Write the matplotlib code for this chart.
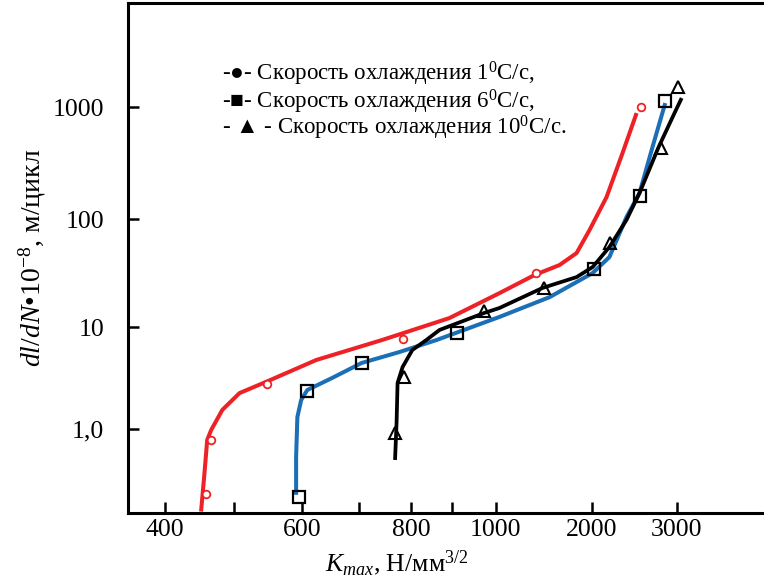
import numpy as np
import matplotlib.pyplot as plt

plt.rcParams['font.family'] = ['Liberation Serif', 'DejaVu Serif']
plt.rcParams['mathtext.fontset'] = 'custom'
plt.rcParams['mathtext.rm'] = 'Liberation Serif'
plt.rcParams['mathtext.it'] = 'Liberation Serif:italic'

# --- data (K_max, dl/dN) ---
red_curve_k = [449, 454, 458, 464, 481, 507, 545, 623, 742, 892, 1029, 1325, 1587, 1795, 1971, 2148, 2318, 2479]
red_curve_v = [0.155, 0.37, 0.78, 0.98, 1.54, 2.25, 2.91, 4.75, 7.46, 12.1, 20.6, 30.3, 37.5, 48.4, 79.1, 157, 388, 884]
red_pts_k = [456, 464, 546, 782, 1335, 2527]
red_pts_v = [0.231, 0.78, 2.76, 7.63, 31.6, 1000]

blue_curve_k = [590, 590, 592, 598, 608, 650, 704, 776, 860, 1029, 1477, 2010, 2178, 2362, 2514, 2674, 2842]
blue_curve_v = [0.226, 0.535, 1.31, 1.92, 2.41, 3.16, 4.44, 5.69, 7.46, 12.4, 18.9, 31.6, 44.5, 104, 171, 439, 1086]
blue_pts_k = [594, 608, 704, 909, 2019, 2514, 2833]
blue_pts_v = [0.215, 2.37, 4.44, 8.73, 34.4, 160, 1131]

black_curve_k = [767, 770, 772, 782, 802, 835, 867, 973, 1029, 1404, 1795, 2010, 2178, 2362, 2514, 2753, 2970, 3073]
black_curve_v = [0.497, 1.145, 2.83, 4.05, 5.95, 7.46, 9.35, 13.5, 15.0, 23.0, 29.0, 35.9, 55.1, 98, 171, 439, 884, 1203]
black_pts_k = [766, 784, 973, 1414, 2188, 2780, 3014]
black_pts_v = [0.914, 3.23, 14.1, 23.0, 60, 430, 1508]

x_ticks = [400, 500, 600, 700, 800, 900, 1000, 2000, 3000]
x_labels = ['400', '', '600', '', '800', '', '1000', '2000', '3000']
y_ticks = [1, 10, 100, 1000]
y_labels = ['1,0', '10', '100', '1000']

legend_lines = [
    '-●- Скорость охлаждения 1$^0$С/с,',
    '-■- Скорость охлаждения 6$^0$С/с,',
    '- ▲ - Скорость охлаждения 10$^0$С/с.',
]

# the original axes are hand drawn: log-like but uneven, so warp them
x_anchor_v = np.log10([100] + x_ticks + [100000])
x_anchor_p = [-262, 166, 235, 303, 360, 412, 453, 496, 592, 677, 1413]
y_anchor_v = np.log10([0.01] + y_ticks + [100000])
y_anchor_p = [-633, -429, -327, -219, -107, 117]


def make_scale(av, ap):
    def fwd(v):
        v = np.clip(np.asarray(v, dtype=float), 1e-9, None)
        return np.interp(np.log10(v), av, ap)

    def inv(p):
        return 10 ** np.interp(np.asarray(p, dtype=float), ap, av)
    return fwd, inv


fig = plt.figure(figsize=(7.64, 5.83), dpi=100)
ax = fig.add_axes([128 / 764, 1 - 513 / 583, 1 - 128 / 764, 510 / 583])
ax.set_xscale('function', functions=make_scale(x_anchor_v, x_anchor_p))
ax.set_yscale('function', functions=make_scale(y_anchor_v, y_anchor_p))

red = '#ee2226'
blue = '#1b6fb7'

ax.plot(red_curve_k, red_curve_v, color=red, lw=2.9, solid_capstyle='butt')
ax.plot(blue_curve_k, blue_curve_v, color=blue, lw=2.9, solid_capstyle='butt')
ax.plot(black_curve_k, black_curve_v, color='black', lw=2.7, solid_capstyle='butt')

ax.plot(red_pts_k, red_pts_v, 'o', ms=5.5, mfc='white', mec=red, mew=1.3, ls='none')
ax.plot(blue_pts_k, blue_pts_v, 's', ms=8, mfc='none', mec='black', mew=1.6, ls='none')
ax.plot(black_pts_k, black_pts_v, '^', ms=8, mfc='none', mec='black', mew=1.5, ls='none')

ax.set_xlim(354.5, 4548)
ax.set_ylim(0.15, 8500)

ax.set_xticks(x_ticks, labels=x_labels)
ax.set_yticks(y_ticks, labels=y_labels)
ax.minorticks_off()
ax.tick_params(direction='in', length=8, width=1.8, labelsize=18.5)
ax.tick_params(axis='y', pad=17)
ax.tick_params(axis='x', pad=4)

for s in ['left', 'bottom', 'top']:
    ax.spines[s].set_linewidth(2.2)
ax.spines['right'].set_visible(False)

ax.set_xlabel('$K_{max}$, Н/мм$^{3/2}$', fontsize=18.5)
ax.xaxis.set_label_coords((397 - 128) / 636, -0.07)
ax.set_ylabel('$dl/dN$•10$^{-8}$, м/цикл', fontsize=20)
ax.yaxis.set_label_coords(-0.125, 0.5)

for i, line in enumerate(legend_lines):
    fig.text(222 / 764, 1 - (81 + 27 * i) / 583, line, fontsize=16.5, va='baseline')

fig.savefig('out.png', dpi=100)
